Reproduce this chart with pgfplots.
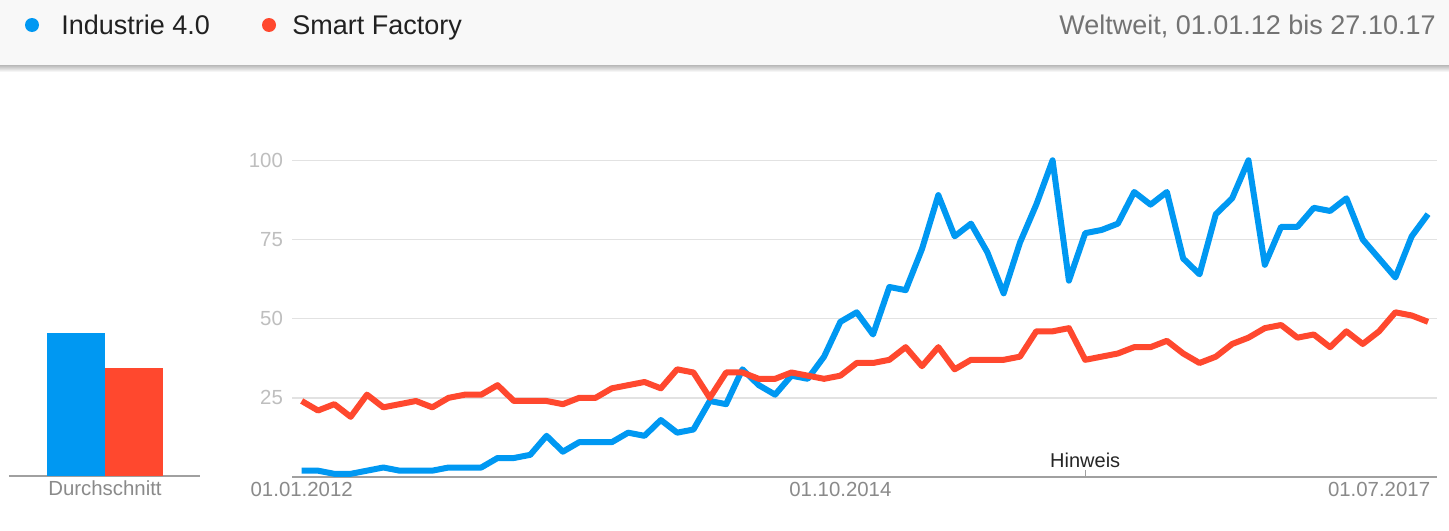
\documentclass[border=0pt]{standalone}
\usepackage{fontspec}
\setmainfont{Liberation Sans}
\usepackage{pgfplots}
\pgfplotsset{compat=1.18}
\usepackage{pgfplotstable}
\definecolor{tblue}{RGB}{0,152,242}
\definecolor{tred}{RGB}{255,72,46}
\definecolor{gridc}{RGB}{226,226,226}
\definecolor{axisc}{RGB}{160,160,160}
\definecolor{ylab}{RGB}{190,190,190}
\definecolor{xlab}{RGB}{138,138,138}
\definecolor{hdr}{RGB}{248,248,248}

\pgfplotstableread{
idx industrie smart
0 2 24
1 2 21
2 1 23
3 1 19
4 2 26
5 3 22
6 2 23
7 2 24
8 2 22
9 3 25
10 3 26
11 3 26
12 6 29
13 6 24
14 7 24
15 13 24
16 8 23
17 11 25
18 11 25
19 11 28
20 14 29
21 13 30
22 18 28
23 14 34
24 15 33
25 24 25
26 23 33
27 34 33
28 29 31
29 26 31
30 32 33
31 31 32
32 38 31
33 49 32
34 52 36
35 45 36
36 60 37
37 59 41
38 72 35
39 89 41
40 76 34
41 80 37
42 71 37
43 58 37
44 74 38
45 86 46
46 100 46
47 62 47
48 77 37
49 78 38
50 80 39
51 90 41
52 86 41
53 90 43
54 69 39
55 64 36
56 83 38
57 88 42
58 100 44
59 67 47
60 79 48
61 79 44
62 85 45
63 84 41
64 88 46
65 75 42
66 69 46
67 63 52
68 76 51
69 83 49
}\trends

\begin{document}
\begin{tikzpicture}
% canvas
\fill[white] (0pt,0pt) rectangle (724.5pt,-265pt);
% header band with shadow
\fill[hdr] (0pt,0pt) rectangle (724.5pt,-32.5pt);
\shade[top color=black!28, bottom color=white] (0pt,-32.5pt) rectangle (724.5pt,-36pt);
% legend
\fill[tblue] (16pt,-12.5pt) circle (3.5pt);
\node[anchor=base west, inner sep=0pt, font=\fontsize{13.5pt}{15pt}\selectfont, text=black!87] at (30.5pt,-17pt) {Industrie 4.0};
\fill[tred] (134.5pt,-12.5pt) circle (3.5pt);
\node[anchor=base west, inner sep=0pt, font=\fontsize{13.5pt}{15pt}\selectfont, text=black!87] at (146pt,-17pt) {Smart Factory};
\node[anchor=base east, inner sep=0pt, font=\fontsize{13.5pt}{15pt}\selectfont, text=black!55] at (718pt,-17pt) {Weltweit, 01.01.12 bis 27.10.17};

% average bars
\begin{axis}[
  at={(4.5pt,-238pt)}, anchor=south west,
  scale only axis, width=95.5pt, height=158.35pt,
  xmin=-1.148, xmax=2.131, ymin=0, ymax=100,
  axis x line*=bottom, axis y line=none,
  x axis line style={axisc, line width=1pt, -},
  xtick={0.5}, xticklabels={Durchschnitt},
  major tick length=0pt,
  xticklabel style={text=xlab, font=\fontsize{10.2pt}{12pt}\selectfont, yshift=1pt},
  clip=false,
]
\addplot[ybar, bar shift=0pt, bar width=29.125pt, fill=tblue, draw=none] coordinates {(0,45)};
\addplot[ybar, bar shift=0pt, bar width=29.125pt, fill=tred, draw=none] coordinates {(1,34)};
\end{axis}

% trend lines
\begin{axis}[
  at={(146pt,-238.5pt)}, anchor=south west,
  scale only axis, width=572.5pt, height=158.35pt,
  xmin=-0.594, xmax=69.55, ymin=0, ymax=100,
  axis x line*=bottom, axis y line*=left,
  y axis line style={draw=none},
  x axis line style={axisc, line width=1pt, -},
  ytick={25,50,75,100},
  xtick={0,33,66},
  xticklabels={01.01.2012,01.10.2014,01.07.2017},
  major tick length=0pt,
  ymajorgrids, grid style={gridc, line width=0.75pt},
  /pgf/number format/assume math mode=true,
  yticklabel style={text=ylab, font=\fontsize{10.2pt}{12pt}\selectfont, xshift=-1pt},
  xticklabel style={text=xlab, font=\fontsize{10.2pt}{12pt}\selectfont, yshift=1pt},
  clip=false,
]
\addplot[tblue, line width=3pt, line join=round] table[x=idx, y=industrie] {\trends};
\addplot[tred, line width=3pt, line join=round] table[x=idx, y=smart] {\trends};
\draw[axisc, line width=0.6pt] (axis cs:48,0) -- ([yshift=3.5pt]axis cs:48,0);
\node[anchor=base, inner sep=0pt, font=\fontsize{10pt}{12pt}\selectfont, text=black!85] at ([yshift=5pt]axis cs:48,0) {Hinweis};
\end{axis}
\pgfresetboundingbox
\path[use as bounding box] (0pt,0pt) rectangle (724.5pt,-265pt);
\end{tikzpicture}
\end{document}
